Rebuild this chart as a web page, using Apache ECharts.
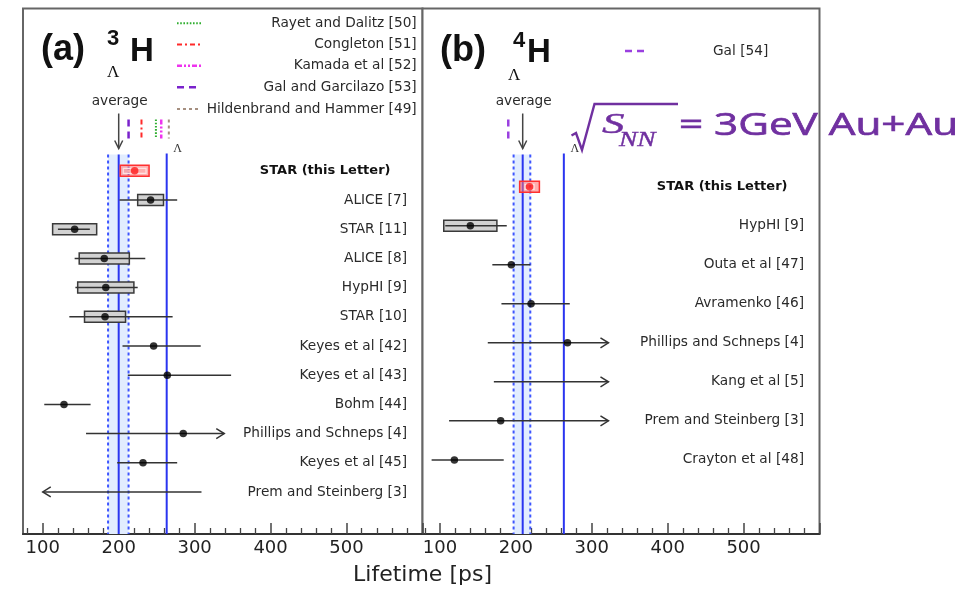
<!DOCTYPE html>
<html>
<head>
<meta charset="utf-8">
<script src="https://cdn.jsdelivr.net/npm/echarts@6/dist/echarts.min.js"></script>
<style>
  html, body { margin: 0; padding: 0; background: #fff; }
  #chart { width: 974px; height: 591px; }
</style>
</head>
<body>
<div id="chart"></div>
<script>
// ---- Hypertriton (3ΛH) lifetime measurements, ps ----
const h3Labels = ['STAR (this Letter)', 'ALICE [7]', 'STAR [11]', 'ALICE [8]', 'HypHI [9]', 'STAR [10]',
  'Keyes et al [42]', 'Keyes et al [43]', 'Bohm [44]', 'Phillips and Schneps [4]', 'Keyes et al [45]', 'Prem and Steinberg [3]'];
const h3Values = [221, 242, 142, 181, 183, 182, 246, 264, 128, 285, 232, null];
const h3Low    = [206, 201, 120, 142, 143, 135, 205, 212, 102, 157, 198, 100];
const h3High   = [236, 277, 162, 235, 225, 271, 308, 348, 163, 339, 277, 309];
const h3Syst   = [19, 17, 29, 33, 37, 27, null, null, null, null, null, null];
const h3Arrow  = [null, null, null, null, null, null, null, null, null, 'right', null, 'left'];

// ---- 4ΛH lifetime measurements, ps ----
const h4Labels = ['STAR (this Letter)', 'HypHI [9]', 'Outa et al [47]', 'Avramenko [46]',
  'Phillips and Schneps [4]', 'Kang et al [5]', 'Prem and Steinberg [3]', 'Crayton et al [48]'];
const h4Values = [218, 140, 194, 220, 268, null, 180, 119];
const h4Low    = [212, 107, 169, 181, 163, 171, 112, 89];
const h4High   = [224, 188, 219, 271, 322, 322, 322, 184];
const h4Syst   = [13, 35, null, null, null, null, null, null];
const h4Arrow  = [null, null, null, null, 'right', 'right', 'right', null];

// world averages and free Λ lifetime, ps
const h3Average = 200, h3AverageLow = 186, h3AverageHigh = 213;
const h4Average = 209, h4AverageLow = 197, h4AverageHigh = 219;
const lambdaLifetime = 263.2;

// theory predictions, ps
const h3TheoryNames  = ['Rayet and Dalitz [50]', 'Congleton [51]', 'Kamada et al [52]', 'Gal and Garcilazo [53]', 'Hildenbrand and Hammer [49]'];
const h3TheoryValues = [249, 230, 256, 213, 266];
const h4TheoryNames  = ['Gal [54]'];
const h4TheoryValues = [190];

// axis ticks
const majorTicks = [100, 200, 300, 400, 500, 600];
const tickLabels = [100, 200, 300, 400, 500];
const minorTicks = [];
for (let v = 80; v < 600; v += 20) if (v % 100 !== 0) minorTicks.push(v);

// line styles of the theory markers
const h3TheoryStyles = [
  { stroke: '#2fae2f', lineWidth: 2, lineDash: [1.6, 1.6] },
  { stroke: '#ff2a2a', lineWidth: 2, lineDash: [5, 3, 2, 3] },
  { stroke: '#ee33ee', lineWidth: 2.5, lineDash: [5, 2, 2, 2, 2, 2] },
  { stroke: '#7a22cc', lineWidth: 2.5, lineDash: [7, 5] },
  { stroke: '#a58f80', lineWidth: 2, lineDash: [3, 3] }
];
const h4TheoryStyles = [
  { stroke: '#9a3fe0', lineWidth: 2.5, lineDash: [7, 5] }
];

const SANS = '"DejaVu Sans", sans-serif';
const TEXT = '#2a2a2a';

function rowsRenderer(labels, values, low, high, syst, arrow) {
  return function (params, api) {
    const i = params.dataIndex;
    const cs = params.coordSys;
    const y = api.coord([100, i])[1];
    const star = i === 0;
    const kids = [];
    if (syst[i] != null) {
      const x0 = api.coord([values[i] - syst[i], i])[0];
      const x1 = api.coord([values[i] + syst[i], i])[0];
      kids.push({
        type: 'rect',
        shape: { x: x0, y: y - 5.5, width: x1 - x0, height: 11 },
        style: star ? { fill: 'rgba(255,110,110,0.55)', stroke: '#ff3030', lineWidth: 1.5 }
                    : { fill: '#d2d2d2', stroke: '#3a3a3a', lineWidth: 1.5 }
      });
    }
    const xl = api.coord([low[i], i])[0];
    const xh = api.coord([high[i], i])[0];
    if (star) {
      kids.push({ type: 'rect', shape: { x: xl, y: y - 2.5, width: xh - xl, height: 5 },
        style: { fill: 'none', stroke: '#ffe2e2', lineWidth: 1.2 } });
    } else {
      kids.push({ type: 'line', shape: { x1: xl, y1: y, x2: xh, y2: y },
        style: { stroke: '#333', lineWidth: 1.5 } });
    }
    if (arrow[i] === 'right') {
      kids.push({ type: 'polyline', shape: { points: [[xh - 8, y - 5], [xh, y], [xh - 8, y + 5]] },
        style: { stroke: '#333', lineWidth: 1.5, fill: 'none' } });
    } else if (arrow[i] === 'left') {
      kids.push({ type: 'polyline', shape: { points: [[xl + 8, y - 5], [xl, y], [xl + 8, y + 5]] },
        style: { stroke: '#333', lineWidth: 1.5, fill: 'none' } });
    }
    const right = cs.x + cs.width;
    kids.push({
      type: 'text',
      style: {
        text: labels[i],
        x: star ? right - 32 : right - 15.5,
        y: y,
        align: 'right', verticalAlign: 'middle',
        font: (star ? 'bold 13px ' : '13.7px ') + SANS,
        fill: star ? '#111' : TEXT
      }
    });
    return { type: 'group', children: kids };
  };
}

function decorRenderer(avg, avgLow, avgHigh, theoryValues, theoryStyles) {
  return function (params, api) {
    const cs = params.coordSys;
    const top = cs.y, bottom = cs.y + cs.height;
    const X = v => api.coord([v, 0])[0];
    const xa = X(avg), xl = X(avgLow), xh = X(avgHigh), xL = X(lambdaLifetime);
    const bandTop = top + 146;
    const kids = [
      { type: 'rect', shape: { x: xl, y: bandTop, width: xh - xl, height: bottom - bandTop },
        style: { fill: '#e2edff' } },
      { type: 'line', shape: { x1: xl, y1: bandTop, x2: xl, y2: bottom },
        style: { stroke: '#3d55ff', lineWidth: 2, lineDash: [3, 3] } },
      { type: 'line', shape: { x1: xh, y1: bandTop, x2: xh, y2: bottom },
        style: { stroke: '#3d55ff', lineWidth: 2, lineDash: [3, 3] } },
      { type: 'line', shape: { x1: xa, y1: bandTop, x2: xa, y2: bottom },
        style: { stroke: '#2a35f0', lineWidth: 2 } },
      { type: 'line', shape: { x1: xL, y1: top + 145, x2: xL, y2: bottom },
        style: { stroke: '#2a35f0', lineWidth: 2 } },
      { type: 'line', shape: { x1: xa, y1: top + 105, x2: xa, y2: top + 140 },
        style: { stroke: '#444', lineWidth: 1.5 } },
      { type: 'polyline', shape: { points: [[xa - 4, top + 132], [xa, top + 140], [xa + 4, top + 132]] },
        style: { stroke: '#444', lineWidth: 1.5, fill: 'none' } },
      { type: 'text', style: { text: 'average', x: xa + 1, y: top + 93, align: 'center', verticalAlign: 'middle',
        font: '13.7px ' + SANS, fill: TEXT } },
      { type: 'text', style: { text: 'Λ', x: xL + 11, y: top + 140, align: 'center', verticalAlign: 'middle',
        font: '12px "Liberation Serif", serif', fill: '#333' } }
    ];
    theoryValues.forEach((v, k) => {
      const x = X(v);
      kids.push({ type: 'line', shape: { x1: x, y1: top + 111, x2: x, y2: top + 130 },
        style: Object.assign({ fill: 'none' }, theoryStyles[k]) });
    });
    return { type: 'group', children: kids };
  };
}

function xAxes(gridIndex, min) {
  return [
    {
      gridIndex, type: 'value', min, max: 600, position: 'bottom',
      axisLine: { onZero: false, lineStyle: { color: '#333', width: 2 } },
      axisTick: { inside: true, length: 11, customValues: majorTicks, lineStyle: { color: '#444', width: 1.5 } },
      axisLabel: { customValues: tickLabels, fontSize: 18, fontFamily: 'DejaVu Sans', color: '#222', margin: 5 },
      splitLine: { show: false }
    },
    {
      gridIndex, type: 'value', min, max: 600, position: 'bottom',
      axisLine: { show: false, onZero: false },
      axisTick: { inside: true, length: 6, customValues: minorTicks, lineStyle: { color: '#444', width: 1.3 } },
      axisLabel: { show: false },
      splitLine: { show: false }
    }
  ];
}

// legend samples and text for the theory predictions
const legendGraphics = [];
const legendRowsY = [23.3, 44.5, 65.8, 87.3, 109];
h3TheoryNames.forEach((name, k) => {
  legendGraphics.push({ type: 'line', shape: { x1: 177, y1: legendRowsY[k], x2: 201, y2: legendRowsY[k] },
    style: Object.assign({ fill: 'none' }, h3TheoryStyles[k]) });
  legendGraphics.push({ type: 'text', style: { text: name, x: 416.7, y: legendRowsY[k], align: 'right',
    verticalAlign: 'middle', font: '13.7px ' + SANS, fill: TEXT } });
});
legendGraphics.push({ type: 'line', shape: { x1: 625, y1: 51, x2: 647, y2: 51 },
  style: Object.assign({ fill: 'none' }, h4TheoryStyles[0]) });
legendGraphics.push({ type: 'text', style: { text: h4TheoryNames[0], x: 713, y: 51, align: 'left',
  verticalAlign: 'middle', font: '13.7px ' + SANS, fill: TEXT } });

const titleFont = '"Liberation Sans", Arial, sans-serif';
const titleGraphics = [
  { type: 'text', style: { text: '(a)', x: 41, y: 50, verticalAlign: 'middle', font: 'bold 36px ' + titleFont, fill: '#111' } },
  { type: 'text', style: { text: '3', x: 107, y: 39, verticalAlign: 'middle', font: 'bold 22px ' + titleFont, fill: '#111' } },
  { type: 'text', style: { text: 'H', x: 130, y: 52, verticalAlign: 'middle', font: 'bold 33px ' + titleFont, fill: '#111' } },
  { type: 'text', style: { text: 'Λ', x: 107, y: 72.5, verticalAlign: 'middle', font: '17px "Liberation Serif", serif', fill: '#111' } },
  { type: 'text', style: { text: '(b)', x: 440, y: 51, verticalAlign: 'middle', font: 'bold 36px ' + titleFont, fill: '#111' } },
  { type: 'text', style: { text: '4', x: 513, y: 41, verticalAlign: 'middle', font: 'bold 22px ' + titleFont, fill: '#111' } },
  { type: 'text', style: { text: 'H', x: 527, y: 53, verticalAlign: 'middle', font: 'bold 33px ' + titleFont, fill: '#111' } },
  { type: 'text', style: { text: 'Λ', x: 508, y: 76, verticalAlign: 'middle', font: '17px "Liberation Serif", serif', fill: '#111' } },
  { type: 'text', style: { text: 'Lifetime [ps]', x: 422.5, y: 575, align: 'center', verticalAlign: 'middle',
    font: '22px ' + SANS, fill: '#222' } }
];

// collision energy annotation
const PURPLE = '#7030a0';
const energyGraphics = [
  { type: 'polyline', shape: { points: [[571.5, 135.5], [576, 133], [582, 150], [594.5, 104], [678, 104]] },
    style: { stroke: PURPLE, lineWidth: 2.4, fill: 'none' } },
  { type: 'text', x: 602, y: 125, scaleX: 1.55, style: { text: 'S', x: 0, y: 0, verticalAlign: 'middle',
    font: 'italic 29px "Liberation Serif", serif', fill: PURPLE, stroke: PURPLE, lineWidth: 0.4 } },
  { type: 'text', x: 619, y: 140, scaleX: 1.3, style: { text: 'NN', x: 0, y: 0, verticalAlign: 'middle',
    font: 'italic 21px "Liberation Serif", serif', fill: PURPLE, stroke: PURPLE, lineWidth: 0.4 } },
  { type: 'text', x: 679, y: 126, scaleX: 1.34, style: { text: '= 3GeV Au+Au', x: 0, y: 0, verticalAlign: 'middle',
    font: '31.5px "Open Sans", sans-serif', fill: PURPLE, stroke: PURPLE, lineWidth: 0.7 } }
];

const chart = echarts.init(document.getElementById('chart'), null, { renderer: 'canvas' });
chart.setOption({
  backgroundColor: '#fff',
  animation: false,
  grid: [
    { left: 23, top: 8.5, width: 399.5, height: 525.5, show: true, borderColor: '#666', borderWidth: 2, backgroundColor: '#fff' },
    { left: 422.5, top: 8.5, width: 397, height: 525.5, show: true, borderColor: '#666', borderWidth: 2, backgroundColor: '#fff' }
  ],
  xAxis: [...xAxes(0, 74), ...xAxes(1, 77)],
  yAxis: [
    { gridIndex: 0, type: 'value', min: -5.56, max: 12.44, inverse: true, show: false },
    { gridIndex: 1, type: 'value', min: -4.57, max: 8.9, inverse: true, show: false }
  ],
  series: [
    { type: 'custom', xAxisIndex: 0, yAxisIndex: 0, z: 1, silent: true,
      renderItem: decorRenderer(h3Average, h3AverageLow, h3AverageHigh, h3TheoryValues, h3TheoryStyles),
      data: [[h3Average, 0]] },
    { type: 'custom', xAxisIndex: 2, yAxisIndex: 1, z: 1, silent: true,
      renderItem: decorRenderer(h4Average, h4AverageLow, h4AverageHigh, h4TheoryValues, h4TheoryStyles),
      data: [[h4Average, 0]] },
    { type: 'custom', xAxisIndex: 0, yAxisIndex: 0, z: 2, silent: true,
      renderItem: rowsRenderer(h3Labels, h3Values, h3Low, h3High, h3Syst, h3Arrow),
      encode: { x: 0, y: 1 },
      data: h3Labels.map((_, i) => [h3Low[i], i]) },
    { type: 'custom', xAxisIndex: 2, yAxisIndex: 1, z: 2, silent: true,
      renderItem: rowsRenderer(h4Labels, h4Values, h4Low, h4High, h4Syst, h4Arrow),
      encode: { x: 0, y: 1 },
      data: h4Labels.map((_, i) => [h4Low[i], i]) },
    { type: 'scatter', xAxisIndex: 0, yAxisIndex: 0, z: 3, symbolSize: 7.5, silent: true,
      data: h3Values.map((v, i) => v == null ? null : { value: [v, i], itemStyle: { color: i === 0 ? '#ff1a1a' : '#000' } })
        .filter(d => d) },
    { type: 'scatter', xAxisIndex: 2, yAxisIndex: 1, z: 3, symbolSize: 7.5, silent: true,
      data: h4Values.map((v, i) => v == null ? null : { value: [v, i], itemStyle: { color: i === 0 ? '#ff1a1a' : '#000' } })
        .filter(d => d) }
  ],
  graphic: [...legendGraphics, ...titleGraphics, ...energyGraphics]
});
</script>
</body>
</html>
